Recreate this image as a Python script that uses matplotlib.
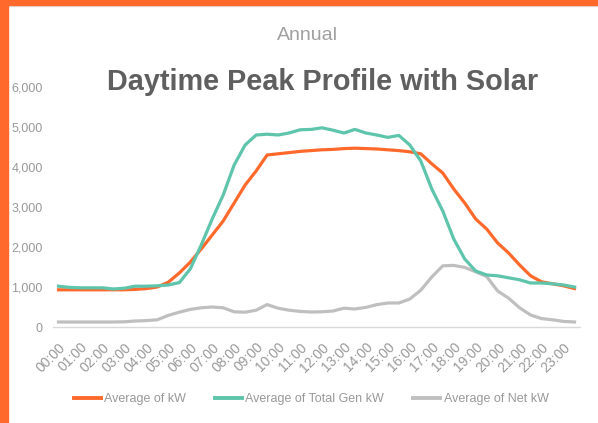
import matplotlib
matplotlib.use("Agg")
import matplotlib.pyplot as plt
from matplotlib.lines import Line2D
from matplotlib.patches import Rectangle
import matplotlib.transforms as mtransforms

# Half-hourly categories
times = [f"{h:02d}:{m:02d}" for h in range(24) for m in (0, 30)]
tick_labels = [f"{h:02d}:00" for h in range(24)]

kw = [930, 930, 930, 930, 930, 930, 930, 940, 960, 1000, 1120, 1350,
      1620, 1950, 2300, 2650, 3100, 3550, 3900, 4300, 4330, 4360, 4390, 4410,
      4430, 4440, 4460, 4470, 4460, 4450, 4430, 4410, 4380, 4330, 4080, 3850,
      3450, 3100, 2700, 2450, 2100, 1850, 1550, 1280, 1130, 1080, 1030, 960]

total_gen = [1020, 990, 980, 980, 980, 950, 970, 1020, 1020, 1030, 1050, 1110,
             1450, 2050, 2700, 3300, 4050, 4550, 4800, 4820, 4800, 4850, 4930, 4940,
             4980, 4920, 4850, 4940, 4850, 4800, 4740, 4790, 4550, 4150, 3450, 2900,
             2200, 1700, 1400, 1300, 1280, 1230, 1180, 1100, 1100, 1080, 1050, 1000]

net_kw = [125, 125, 125, 125, 125, 125, 130, 150, 160, 180, 290, 370,
          440, 480, 500, 480, 380, 370, 420, 560, 470, 420, 390, 375,
          380, 400, 470, 450, 490, 560, 600, 600, 700, 920, 1250, 1530,
          1540, 1490, 1380, 1260, 900, 720, 480, 300, 210, 180, 140, 125]

series_names = ["Average of kW", "Average of Total Gen kW", "Average of Net kW"]
y_ticks = [0, 1000, 2000, 3000, 4000, 5000, 6000]
y_tick_labels = ["0", "1,000", "2,000", "3,000", "4,000", "5,000", "6,000"]

C_ORANGE = "#FF6A2C"
C_TEAL = "#5EC4AB"
C_GRAY = "#BFBFBF"
C_TXT = "#999999"
FONT = ["Liberation Sans", "DejaVu Sans"]

W, H = 598, 423
fig = plt.figure(figsize=(W / 100, H / 100), dpi=100)
fig.patch.set_facecolor("white")

# orange frame (left and top)
fig.patches.append(Rectangle((0, 0), 8 / W, 1, transform=fig.transFigure,
                             color=C_ORANGE, zorder=5))
fig.patches.append(Rectangle((0, 1 - 5 / H), 1, 5 / H, transform=fig.transFigure,
                             color=C_ORANGE, zorder=5))
fig.patches.append(Rectangle((8 / W, 1 - 6 / H), 1, 1 / H, transform=fig.transFigure,
                             color="#E6E6E6", zorder=4))

left, right = 53 / W, 580 / W
bottom, top = 1 - 327 / H, 1 - 87 / H
ax = fig.add_axes([left, bottom, right - left, top - bottom])

x = list(range(len(times)))
ax.plot(x, kw, color=C_ORANGE, lw=2.3, solid_joinstyle="round", zorder=3)
ax.plot(x, total_gen, color=C_TEAL, lw=2.3, solid_joinstyle="round", zorder=3)
ax.plot(x, net_kw, color=C_GRAY, lw=2.3, solid_joinstyle="round", zorder=2)

ax.set_xlim(-0.5, len(times) - 0.5)
ax.set_ylim(0, 6000)
ax.set_yticks(y_ticks)
ax.set_yticklabels(y_tick_labels, family=FONT, fontsize=9, color=C_TXT)
ax.set_xticks(x[::2])
ax.set_xticklabels(tick_labels, rotation=45, ha="right", va="top",
                   rotation_mode="anchor", family=FONT, fontsize=10, color=C_TXT)
offset = mtransforms.ScaledTranslation(2.5 / 72, 0, fig.dpi_scale_trans)
for lab in ax.get_xticklabels():
    lab.set_transform(lab.get_transform() + offset)
ax.tick_params(axis="both", length=0)
ax.tick_params(axis="x", pad=9.5)
ax.tick_params(axis="y", pad=7.5)
for s in ["top", "right", "left"]:
    ax.spines[s].set_visible(False)
ax.spines["bottom"].set_color("#D9D9D9")
ax.spines["bottom"].set_linewidth(1)
ax.patch.set_alpha(0)

fig.text(307 / W, 1 - 35 / H, "Annual", ha="center", va="center",
         family=FONT, fontsize=14, color="#A0A0A0")
fig.text(323 / W, 1 - 82 / H, "Daytime Peak Profile with Solar", ha="center",
         va="center", family=FONT, fontsize=20.8, fontweight="bold", color="#5F5F5F")

handles = [Line2D([], [], color=c, lw=2.8) for c in (C_ORANGE, C_TEAL, C_GRAY)]
leg = fig.legend(handles, series_names, loc="center", bbox_to_anchor=(311 / W, 1 - 399 / H),
                 ncol=3, frameon=False, handlelength=2.2, handletextpad=0.25,
                 columnspacing=2.3, prop={"family": FONT, "size": 9})
for t in leg.get_texts():
    t.set_color(C_TXT)

fig.savefig("out.png", dpi=100, facecolor="white")
